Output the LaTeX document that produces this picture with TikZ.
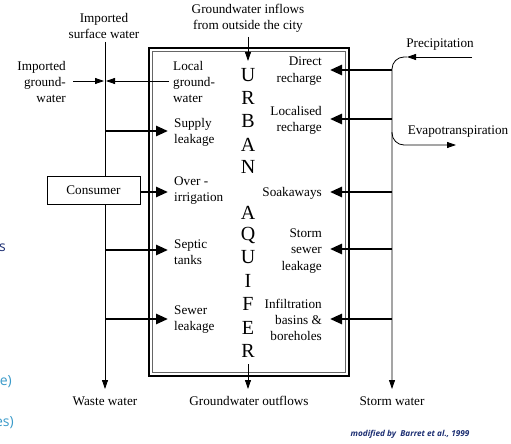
\documentclass[tikz,border=0pt]{standalone}
\usepackage{fontspec}
\setmainfont{Liberation Serif}
\newfontfamily\slidefont{Open Sans}
\usetikzlibrary{arrows.meta}
\definecolor{navy}{HTML}{1C2E72}
\definecolor{lightblue}{HTML}{3A9AC9}
\begin{document}
\begin{tikzpicture}[x=1pt,y=-1pt,
  lbl/.style={inner sep=0pt,font=\fontsize{13.2}{16.2}\selectfont},
  lblL/.style={lbl,anchor=west,align=left},
  lblR/.style={lbl,anchor=east,align=right},
  lblC/.style={lbl,align=center},
  letter/.style={inner sep=0pt,font=\fontsize{20}{20}\selectfont},
  thinline/.style={line width=0.8pt},
  thinarrow/.style={line width=0.8pt,-{Triangle[length=9pt,width=6pt]}},
  thickarrow/.style={line width=2.6pt,-{Triangle[length=12pt,width=10pt]}},
  frag/.style={inner sep=0pt,anchor=east,font=\slidefont\fontsize{14}{14}\selectfont}]
\useasboundingbox (0,0) rectangle (511,444);
% aquifer box
\draw[line width=2.4pt] (149,48) rectangle (349,376);
\draw[line width=0.5pt,black!60] (152.5,51.5) rectangle (345.5,372.5);
% letters
\foreach \ch/\yy [count=\i] in {U/75,R/98,B/121,A/145,N/167,A/213,Q/235,U/257,I/281,F/304,E/328,R/351}
  \node[letter] (let\i) at (248,\yy) {\ch};
% top and bottom texts
\node[lblC] (impsurf) at (104,26) {Imported\\surface water};
\node[lblC] (gwin) at (248,18) {Groundwater inflows\\from outside the city};
\node[lblR] (impgw) at (66,82) {Imported\\ground-\\water};
\node[lblC] (waste) at (105,401) {Waste water};
\node[lblC] (gwout) at (249,401) {Groundwater outflows};
\node[lblC] (storm) at (392,401) {Storm water};
\node[lblC] (precip) at (440,45) {Precipitation};
\node[lblC] (evap) at (458,132) {Evapotranspiration};
% consumer
\node[draw,line width=0.6pt,minimum width=93pt,minimum height=28pt,inner sep=0pt,fill=white,
  font=\fontsize{13.2}{16}\selectfont] (consumer) at (93.5,190) {Consumer};
% left labels inside box
\node[lblL] (localgw) at (173,82) {Local\\ground-\\water};
\node[lblL] (supply) at (174,132) {Supply\\leakage};
\node[lblL] (overirr) at (174,190.5) {Over -\\irrigation};
\node[lblL] (septic) at (174,252) {Septic\\tanks};
\node[lblL] (sewer) at (174,319.5) {Sewer\\leakage};
% right labels inside box
\node[lblR] (direct) at (322,71) {Direct\\recharge};
\node[lblR] (localised) at (322,120) {Localised\\recharge};
\node[lblR] (soak) at (322,193) {Soakaways};
\node[lblR] (stormsewer) at (322,251) {Storm\\sewer\\leakage};
\node[lblR] (infil) at (322,320) {Infiltration\\basins \&\\boreholes};
% left vertical line
\coordinate (lt) at (105,42);
\coordinate (lb) at (105,389);
\draw[thinline] (lt) -- (consumer.north -| lt);
\draw[thinarrow] (consumer.south -| lt) -- (lb);
% imported / local groundwater
\coordinate (ig0) at (73,81);
\coordinate (ig1) at (104,81);
\coordinate (lg0) at (169,81);
\coordinate (lg1) at (106,81);
\draw[thinarrow] (ig0) -- (ig1);
\draw[thinarrow] (lg0) -- (lg1);
% left thick arrows
\coordinate (s0) at (105,131);   \coordinate (s1) at (168,131);
\coordinate (o1) at (168,192);
\coordinate (t0) at (105,250);   \coordinate (t1) at (168,250);
\coordinate (w0) at (105,319);   \coordinate (w1) at (168,319);
\draw[thickarrow] (s0) -- (s1);
\draw[thickarrow] (consumer.east |- o1) -- (o1);
\draw[thickarrow] (t0) -- (t1);
\draw[thickarrow] (w0) -- (w1);
% groundwater inflow / outflow
\coordinate (gi0) at (248,37);  \coordinate (gi1) at (248,61);
\coordinate (go0) at (248,364); \coordinate (go1) at (248,389);
\draw[thinarrow] (gi0) -- (gi1);
\draw[thinarrow] (go0) -- (go1);
% right side: precipitation and storm water line
\coordinate (p0) at (472,57);
\coordinate (p1) at (407,57);
\coordinate (rb) at (392,389);
\draw[thinarrow] (p0) -- (p1);
\draw[thinarrow,rounded corners=12pt] (p1) -| (rb);
\coordinate (e0) at (392,132);
\coordinate (e1) at (456,145);
\draw[thinarrow,rounded corners=12pt] (e0) |- (e1);
% right thick arrows
\foreach \nm/\yy in {d/70,l/119,k/192,m/249,f/319}{
  \coordinate (\nm0) at (392,\yy);
  \coordinate (\nm1) at (330,\yy);
  \draw[thickarrow] (\nm0) -- (\nm1);
}
% credit
\node[inner sep=0pt,text=navy,font=\slidefont\bfseries\itshape\fontsize{8.2}{8.2}\selectfont] (credit) at (410,434) {modified by\ \ Barret et al., 1999};
% slide fragments at left edge
\node[frag,text=navy] (fragS) at (6,248) {s};
\node[frag,text=lightblue] (fragE) at (12,382) {e)};
\node[frag,text=lightblue] (fragES) at (14,423) {es)};
\end{tikzpicture}
\end{document}
